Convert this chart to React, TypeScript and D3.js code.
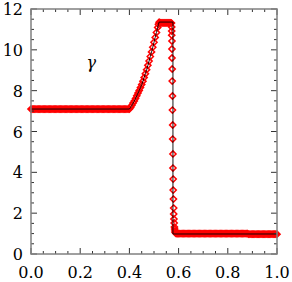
import React from "react";
import * as d3 from "d3";

const W = 292;
const H = 282;

// x tick labels / y tick labels
const xMajor = [0, 0.2, 0.4, 0.6, 0.8, 1.0];
const yMajor = [0, 2, 4, 6, 8, 10, 12];

// Red markers: left constant state
const flatLeft: [number, number][] = [
  [0, 7.1], [0.005, 7.1], [0.01, 7.1], [0.015, 7.1], [0.02, 7.1], [0.025, 7.1], [0.03, 7.1], [0.035, 7.1],
  [0.04, 7.1], [0.045, 7.1], [0.05, 7.1], [0.055, 7.1], [0.06, 7.1], [0.065, 7.1], [0.07, 7.1], [0.075, 7.1],
  [0.08, 7.1], [0.085, 7.1], [0.09, 7.1], [0.095, 7.1], [0.1, 7.1], [0.105, 7.1], [0.11, 7.1], [0.115, 7.1],
  [0.12, 7.1], [0.125, 7.1], [0.13, 7.1], [0.135, 7.1], [0.14, 7.1], [0.145, 7.1], [0.15, 7.1], [0.155, 7.1],
  [0.16, 7.1], [0.165, 7.1], [0.17, 7.1], [0.175, 7.1], [0.18, 7.1], [0.185, 7.1], [0.19, 7.1], [0.195, 7.1],
  [0.2, 7.1], [0.205, 7.1], [0.21, 7.1], [0.215, 7.1], [0.22, 7.1], [0.225, 7.1], [0.23, 7.1], [0.235, 7.1],
  [0.24, 7.1], [0.245, 7.1], [0.25, 7.1], [0.255, 7.1], [0.26, 7.1], [0.265, 7.1], [0.27, 7.1], [0.275, 7.1],
  [0.28, 7.1], [0.285, 7.1], [0.29, 7.1], [0.295, 7.1], [0.3, 7.1], [0.305, 7.1], [0.31, 7.1], [0.315, 7.1],
  [0.32, 7.1], [0.325, 7.1], [0.33, 7.1], [0.335, 7.1], [0.34, 7.1], [0.345, 7.1], [0.35, 7.1], [0.355, 7.1],
  [0.36, 7.1], [0.365, 7.1], [0.37, 7.1], [0.375, 7.1], [0.38, 7.1], [0.385, 7.1], [0.39, 7.1], [0.395, 7.1],
];

// Rising part
const rise: [number, number][] = [
  [0.4, 7.1], [0.405, 7.18], [0.41, 7.28], [0.415, 7.39], [0.42, 7.5], [0.425, 7.62], [0.43, 7.75],
  [0.435, 7.88], [0.44, 8.01], [0.445, 8.15], [0.45, 8.3], [0.455, 8.46], [0.46, 8.64], [0.465, 8.83],
  [0.47, 9.03], [0.475, 9.24], [0.48, 9.45], [0.485, 9.67], [0.49, 9.9], [0.495, 10.13], [0.5, 10.37],
  [0.505, 10.61], [0.51, 10.85], [0.515, 11.1], [0.518, 11.25], [0.521, 11.35],
];

// Plateau
const plateau: [number, number][] = [
  [0.524, 11.33], [0.528, 11.32], [0.532, 11.32], [0.536, 11.32], [0.54, 11.32], [0.544, 11.32],
  [0.548, 11.32], [0.552, 11.32], [0.556, 11.32], [0.56, 11.32], [0.564, 11.32], [0.568, 11.32],
];

// Shock
const shock: [number, number][] = [
  [0.571, 11.31], [0.572, 11.12], [0.572, 10.92], [0.572, 10.72], [0.573, 10.43], [0.573, 10.04],
  [0.573, 9.6], [0.574, 9.06], [0.574, 8.47], [0.575, 7.74], [0.575, 7.05], [0.576, 6.32],
  [0.576, 5.63], [0.577, 4.9], [0.577, 4.21], [0.578, 3.67], [0.578, 3.13], [0.579, 2.69],
  [0.58, 2.25], [0.58, 1.96], [0.581, 1.71], [0.582, 1.52], [0.583, 1.32], [0.584, 1.22],
  [0.585, 1.13], [0.586, 1.05],
];

// Right constant state
const flatRight: [number, number][] = [
  [0.59, 1.0], [0.595, 1.0], [0.6, 1.0], [0.605, 1.0], [0.61, 1.0], [0.615, 1.0], [0.62, 1.0], [0.625, 1.0],
  [0.63, 1.0], [0.635, 1.0], [0.64, 1.0], [0.645, 1.0], [0.65, 1.0], [0.655, 1.0], [0.66, 1.0], [0.665, 1.0],
  [0.67, 1.0], [0.675, 1.0], [0.68, 1.0], [0.685, 1.0], [0.69, 1.0], [0.695, 1.0], [0.7, 1.0], [0.705, 1.0],
  [0.71, 1.0], [0.715, 1.0], [0.72, 1.0], [0.725, 1.0], [0.73, 1.0], [0.735, 1.0], [0.74, 1.0], [0.745, 1.0],
  [0.75, 1.0], [0.755, 1.0], [0.76, 1.0], [0.765, 1.0], [0.77, 1.0], [0.775, 1.0], [0.78, 1.0], [0.785, 1.0],
  [0.79, 1.0], [0.795, 1.0], [0.8, 1.0], [0.805, 1.0], [0.81, 1.0], [0.815, 1.0], [0.82, 1.0], [0.825, 1.0],
  [0.83, 1.0], [0.835, 1.0], [0.84, 1.0], [0.845, 1.0], [0.85, 1.0], [0.855, 1.0], [0.86, 1.0], [0.865, 1.0],
  [0.87, 1.0], [0.875, 1.0], [0.88, 1.0], [0.885, 0.97], [0.89, 0.97], [0.895, 0.97], [0.9, 0.97], [0.905, 0.97],
  [0.91, 0.97], [0.915, 0.97], [0.92, 0.97], [0.925, 0.97], [0.93, 0.97], [0.935, 0.97], [0.94, 0.97], [0.945, 0.97],
  [0.95, 0.97], [0.955, 0.97], [0.96, 0.97], [0.965, 0.97], [0.97, 0.97], [0.975, 0.97], [0.98, 0.97], [0.985, 0.97],
  [0.99, 0.97], [0.995, 0.97], [1.0, 0.97],
];

// Black reference (exact) curve
const exactLine: [number, number][] = [
  [0, 7.1], [0.4, 7.1], [0.405, 7.18], [0.41, 7.28], [0.415, 7.39], [0.42, 7.5], [0.425, 7.62], [0.43, 7.75],
  [0.435, 7.88], [0.44, 8.01], [0.445, 8.15], [0.45, 8.3], [0.455, 8.46], [0.46, 8.64], [0.465, 8.83],
  [0.47, 9.03], [0.475, 9.24], [0.48, 9.45], [0.485, 9.67], [0.49, 9.9], [0.495, 10.13], [0.5, 10.37],
  [0.505, 10.61], [0.51, 10.85], [0.515, 11.1], [0.518, 11.25], [0.521, 11.36], [0.577, 11.36],
  [0.577, 0.98], [1.0, 0.98],
];

const label = "γ";
const labelPos: [number, number] = [0.245, 9.1];

const left = 31, right = 277, top = 9, bottom = 254;

export default function App() {
  const x = d3.scaleLinear().domain([0, 1]).range([left, right]);
  const y = d3.scaleLinear().domain([0, 12]).range([bottom, top]);
  const xMinor = d3.range(0, 1.0001, 0.05).filter((v) => !xMajor.some((m) => Math.abs(m - v) < 1e-6));
  const yMinor = d3.range(0, 12.0001, 0.5).filter((v) => !yMajor.some((m) => Math.abs(m - v) < 1e-6));
  const line = d3.line<[number, number]>().x((d) => x(d[0])).y((d) => y(d[1]));
  const markers = [...flatLeft, ...rise, ...plateau, ...shock, ...flatRight];
  const diamond = "M0,-3.1 L3.1,0 L0,3.1 L-3.1,0 Z";
  const font = "'DejaVu Serif', serif";
  const tickColor = "#333";
  const majorLen = 6, minorLen = 3;
  return (
    <svg width={W} height={H} style={{ position: "absolute", left: 0, top: 0, background: "#fff" }}>
      <g fill="none" stroke="#ff0000" strokeWidth={1.5}>
        {markers.map((d, i) => (
          <path key={i} d={diamond} transform={`translate(${x(d[0])},${y(d[1])})`} />
        ))}
      </g>
      <path d={line(exactLine) || ""} fill="none" stroke="#000" strokeWidth={0.9} />
      <g stroke={tickColor} strokeWidth={1}>
        {xMajor.map((v) => (
          <g key={"xM" + v}>
            <line x1={x(v)} x2={x(v)} y1={bottom} y2={bottom - majorLen} />
            <line x1={x(v)} x2={x(v)} y1={top} y2={top + majorLen} />
          </g>
        ))}
        {xMinor.map((v) => (
          <g key={"xm" + v}>
            <line x1={x(v)} x2={x(v)} y1={bottom} y2={bottom - minorLen} />
            <line x1={x(v)} x2={x(v)} y1={top} y2={top + minorLen} />
          </g>
        ))}
        {yMajor.map((v) => (
          <g key={"yM" + v}>
            <line x1={left} x2={left + majorLen} y1={y(v)} y2={y(v)} />
            <line x1={right} x2={right - majorLen} y1={y(v)} y2={y(v)} />
          </g>
        ))}
        {yMinor.map((v) => (
          <g key={"ym" + v}>
            <line x1={left} x2={left + minorLen} y1={y(v)} y2={y(v)} />
            <line x1={right} x2={right - minorLen} y1={y(v)} y2={y(v)} />
          </g>
        ))}
      </g>
      <rect x={left} y={top} width={right - left} height={bottom - top} fill="none" stroke="#808080" strokeWidth={1.5} />
      <g style={{ fontFamily: font, fontSize: "16px" }} fill="#000">
        {xMajor.map((v) => (
          <text key={"xl" + v} x={x(v)} y={277.5} textAnchor="middle">
            {d3.format(".1f")(v)}
          </text>
        ))}
        {yMajor.map((v) => (
          <text key={"yl" + v} x={23} y={y(v) + 6} textAnchor="end">
            {String(v)}
          </text>
        ))}
        <text x={x(labelPos[0])} y={y(labelPos[1])} fontStyle="italic" textAnchor="middle">
          {label}
        </text>
      </g>
    </svg>
  );
}
